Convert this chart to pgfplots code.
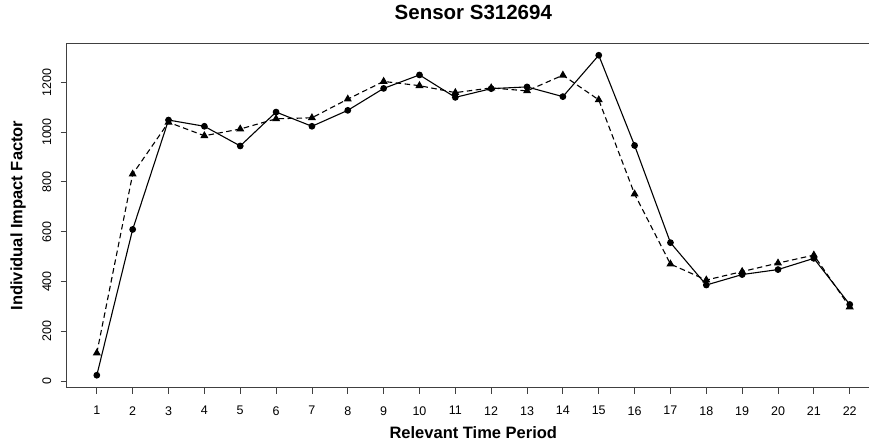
\documentclass[border=0pt]{standalone}
\usepackage{fontspec}
\setmainfont{Liberation Sans}
\usepackage{pgfplots}
\pgfplotsset{compat=1.18}
\begin{document}
\begin{tikzpicture}
\begin{axis}[
  scale only axis, width=802pt, height=344.4pt,
  xmin=0.16, xmax=22.53, ymin=-26, ymax=1356,
  axis x line=box, axis y line=left,
  x axis line style={-}, y axis line style={-},
  axis line style={draw=black!75, line width=0.8pt},
  xtick={1,...,22}, ytick={0,200,...,1200},
  xtick pos=bottom, ytick pos=left,
  tick align=outside, major tick length=6pt,
  tick style={draw=black!75, line width=0.8pt},
  /pgf/number format/assume math mode=true,
  /pgf/number format/1000 sep={},
  xticklabel style={font=\fontsize{12.5}{15}\selectfont, anchor=center, yshift=-17pt},
  yticklabel style={font=\fontsize{12.5}{15}\selectfont, rotate=90, anchor=center, yshift=14pt},
  title={Sensor S312694},
  title style={at={(axis description cs:0.507,1.0735)}, anchor=center, font=\bfseries\fontsize{20.5}{24}\selectfont},
  xlabel={Relevant Time Period},
  xlabel style={at={(axis description cs:0.507,-0.1307)}, anchor=center, font=\bfseries\fontsize{16.5}{20}\selectfont},
  ylabel={Individual Impact Factor},
  ylabel style={at={(axis description cs:-0.0607,0.5)}, anchor=center, font=\bfseries\fontsize{16.5}{20}\selectfont},
]
\addplot[black, line width=1.1pt, dash pattern=on 5.5pt off 3.5pt, mark=triangle*, mark size=3.6pt, mark options={solid}]
coordinates {(1,113) (2,831) (3,1039) (4,985) (5,1012) (6,1053) (7,1057) (8,1132) (9,1203) (10,1186) (11,1158) (12,1177) (13,1165) (14,1228) (15,1129) (16,751) (17,470) (18,406) (19,440) (20,474) (21,506) (22,298)};
\addplot[black, line width=1.1pt, mark=*, mark size=2.8pt]
coordinates {(1,24) (2,609) (3,1048) (4,1023) (5,944) (6,1080) (7,1023) (8,1087) (9,1175) (10,1229) (11,1139) (12,1174) (13,1181) (14,1142) (15,1308) (16,946) (17,556) (18,386) (19,428) (20,448) (21,493) (22,308)};
\end{axis}
\pgfresetboundingbox
\useasboundingbox (-66.7pt,-58.3pt) rectangle (802.3pt,387.7pt);
\end{tikzpicture}
\end{document}
